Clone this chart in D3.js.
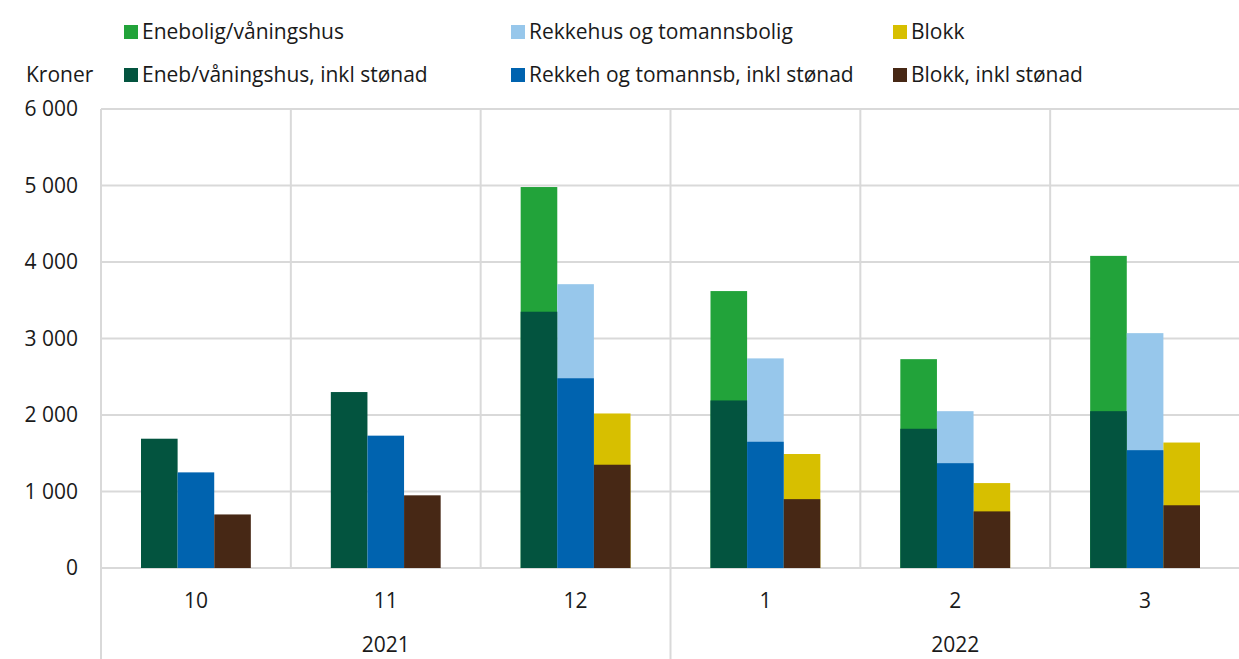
<!DOCTYPE html>
<html>
<head>
<meta charset="utf-8">
<script src="https://cdn.jsdelivr.net/npm/d3@7"></script>
<style>
  body { margin: 0; background: #fff; }
  svg text { font-family: "Open Sans", "Noto Sans", sans-serif; fill: #1a1a1a; }
</style>
</head>
<body>
<div id="chart"></div>
<script>
// data
var months = ["10", "11", "12", "1", "2", "3"];
var years = [{label: "2021", from: 0, to: 3}, {label: "2022", from: 3, to: 6}];
var types = ["eneb", "rekke", "blokk"];

var enebolig = [null, null, 4980, 3620, 2730, 4080];
var rekkehus = [null, null, 3710, 2740, 2050, 3070];
var blokk    = [null, null, 2020, 1490, 1110, 1640];
var enebInkl  = [1690, 2300, 3350, 2190, 1820, 2050];
var rekkeInkl = [1250, 1730, 2480, 1650, 1370, 1540];
var blokkInkl = [700, 950, 1350, 900, 740, 820];

var yTicks = [0, 1000, 2000, 3000, 4000, 5000, 6000];

var legendItems = [
  {name: "Enebolig/våningshus", color: "#22a33a", col: 0, row: 0},
  {name: "Rekkehus og tomannsbolig", color: "#97c7eb", col: 1, row: 0},
  {name: "Blokk", color: "#d7bf00", col: 2, row: 0},
  {name: "Eneb/våningshus, inkl stønad", color: "#03543f", col: 0, row: 1},
  {name: "Rekkeh og tomannsb, inkl stønad", color: "#0063af", col: 1, row: 1},
  {name: "Blokk, inkl stønad", color: "#472815", col: 2, row: 1}
];

var totalSeries = [
  {type: "eneb", values: enebolig, color: "#22a33a"},
  {type: "rekke", values: rekkehus, color: "#97c7eb"},
  {type: "blokk", values: blokk, color: "#d7bf00"}
];
var inklSeries = [
  {type: "eneb", values: enebInkl, color: "#03543f"},
  {type: "rekke", values: rekkeInkl, color: "#0063af"},
  {type: "blokk", values: blokkInkl, color: "#472815"}
];

var width = 1239, height = 659;
var pLeft = 101, pRight = 1240, pTop = 109, pBottom = 568;
var fs = "21px";

var svg = d3.select("#chart").append("svg")
    .attr("width", width)
    .attr("height", height);

var x = d3.scaleBand().domain(months).range([pLeft, pRight]).padding(0);
var xi = d3.scaleBand().domain(types).range([40, x.bandwidth() - 40]).padding(0);
var y = d3.scaleLinear().domain([0, 6000]).range([pBottom, pTop]);

var grid = "#d9d9d9";

// horizontal gridlines
svg.append("g").selectAll("line")
    .data(yTicks)
    .enter().append("line")
    .attr("x1", pLeft).attr("x2", pRight)
    .attr("y1", d => y(d)).attr("y2", d => y(d))
    .attr("stroke", grid).attr("stroke-width", 2);

// vertical gridlines between months
svg.append("g").selectAll("line")
    .data(months)
    .enter().append("line")
    .attr("x1", d => x(d)).attr("x2", d => x(d))
    .attr("y1", pTop)
    .attr("y2", (d, i) => (i === 0 || i === 3) ? height : pBottom)
    .attr("stroke", grid).attr("stroke-width", 2);

// y labels
svg.append("g").selectAll("text")
    .data(yTicks)
    .enter().append("text")
    .attr("x", 78)
    .attr("y", d => y(d) + 7)
    .attr("text-anchor", "end")
    .style("font-size", fs)
    .text(d => d3.format(",")(d).replace(/,/g, " "));

svg.append("text")
    .attr("x", 26).attr("y", 82)
    .style("font-size", fs)
    .text("Kroner");

// bars: totals first, then inkl stønad on top
function drawBars(series) {
  series.forEach(function(s) {
    svg.append("g").selectAll("rect")
      .data(s.values.map((v, i) => ({v: v, m: months[i]})).filter(d => d.v != null))
      .enter().append("rect")
      .attr("x", d => x(d.m) + xi(s.type))
      .attr("width", xi.bandwidth())
      .attr("y", d => y(d.v))
      .attr("height", d => y(0) - y(d.v))
      .attr("fill", s.color);
  });
}
drawBars(totalSeries);
drawBars(inklSeries);

// month labels
svg.append("g").selectAll("text")
    .data(months)
    .enter().append("text")
    .attr("x", d => x(d) + x.bandwidth() / 2)
    .attr("y", 608)
    .attr("text-anchor", "middle")
    .style("font-size", fs)
    .text(d => d);

// year labels
svg.append("g").selectAll("text")
    .data(years)
    .enter().append("text")
    .attr("x", d => (x(months[d.from]) + x(months[d.to - 1]) + x.bandwidth()) / 2)
    .attr("y", 652)
    .attr("text-anchor", "middle")
    .style("font-size", fs)
    .text(d => d.label);

// legend
var colX = [124, 511, 893];
var rowY = [32, 75];
var leg = svg.append("g").selectAll("g")
    .data(legendItems)
    .enter().append("g")
    .attr("transform", d => "translate(" + colX[d.col] + "," + rowY[d.row] + ")");
leg.append("rect")
    .attr("x", 0).attr("y", -7)
    .attr("width", 14).attr("height", 14)
    .attr("fill", d => d.color);
leg.append("text")
    .attr("x", 18).attr("y", 7)
    .style("font-size", fs)
    .text(d => d.name);
</script>
</body>
</html>
